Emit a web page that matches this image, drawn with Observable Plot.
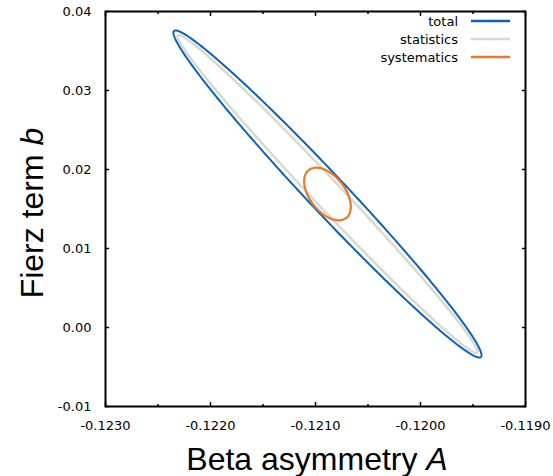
<!DOCTYPE html>
<html><head><meta charset="utf-8">
<script src="https://cdn.jsdelivr.net/npm/d3@7"></script>
<script src="https://cdn.jsdelivr.net/npm/@observablehq/plot@0.6"></script>
<style>body{margin:0;background:#fff} svg{display:block}</style>
</head><body><div id="chart"></div>
<script>
// Ellipse parameters: center, 1-sigma widths, correlation
const series = ["total", "statistics", "systematics"];
const centerA = [-0.120886, -0.120886, -0.120886];
const centerB = [0.0169, 0.0169, 0.0169];
const sigmaA = [0.001467, 0.001429, 0.000222];
const sigmaB = [0.0207, 0.02013, 0.00333];
const rho = [-0.9857, -0.992, -0.48];
const colors = ["#0a63bc", "#d9d9d0", "#e8782a"];
const widths = [2, 2.5, 2.2];
const drawOrder = [1, 0, 2];

const xTicks = [-0.123, -0.122, -0.121, -0.120, -0.119];
const xMinor = [-0.1225, -0.1215, -0.1205, -0.1195];
const yTicks = [-0.01, 0.00, 0.01, 0.02, 0.03, 0.04];
const xDomain = [-0.123, -0.119];
const yDomain = [-0.01, 0.04];

// contour points of each ellipse from its parameters
const pts = [];
for (const i of drawOrder) {
  const r = Math.sqrt(1 - rho[i] * rho[i]);
  for (let k = 0; k <= 360; k++) {
    const t = k * Math.PI / 180;
    pts.push({s: series[i], A: centerA[i] + sigmaA[i] * Math.cos(t),
      b: centerB[i] + sigmaB[i] * (rho[i] * Math.cos(t) + r * Math.sin(t))});
  }
}

const W = 553, H = 476;
const svg = Plot.plot({
  width: W, height: H,
  marginLeft: 105, marginRight: 28, marginTop: 11, marginBottom: 70,
  x: {domain: xDomain},
  y: {domain: yDomain},
  color: {domain: series, range: colors},
  style: {fontFamily: "DejaVu Sans", fontSize: "13px", color: "#000", background: "#fff"},
  marks: [
    ...drawOrder.map(i => Plot.line(pts.filter(d => d.s === series[i]),
      {x: "A", y: "b", stroke: colors[i], strokeWidth: widths[i], curve: "linear-closed"})),
    Plot.axisX(xTicks, {anchor: "bottom", tickSize: -4, tickPadding: 18, strokeWidth: 1.5, tickFormat: d => d.toFixed(4), label: null}),
    Plot.axisX(xMinor, {anchor: "bottom", tickSize: -2, strokeWidth: 1.5, tickFormat: () => "", label: null}),
    Plot.axisX(xTicks, {anchor: "top", tickSize: -4, strokeWidth: 1.5, tickFormat: () => "", label: null}),
    Plot.axisX(xMinor, {anchor: "top", tickSize: -2, strokeWidth: 1.5, tickFormat: () => "", label: null}),
    Plot.axisY(yTicks, {anchor: "left", tickSize: -4, tickPadding: 18, strokeWidth: 1.5, tickFormat: d => d.toFixed(2), label: null}),
    Plot.axisY(yTicks, {anchor: "right", tickSize: -4, strokeWidth: 1.5, tickFormat: () => "", label: null}),
    Plot.frame({stroke: "#000", strokeWidth: 2})
  ]
});

const s = d3.select(svg);
const titleFont = "'Liberation Sans', Arial, sans-serif";
const xt = s.append("text").attr("x", 317).attr("y", 470).attr("text-anchor", "middle")
  .attr("font-family", titleFont).attr("font-size", 32).attr("fill", "#000");
xt.append("tspan").text("Beta asymmetry ");
xt.append("tspan").attr("font-style", "italic").text("A");
const yt = s.append("text").attr("transform", "translate(43,213) rotate(-90)").attr("text-anchor", "middle")
  .attr("font-family", titleFont).attr("font-size", 32).attr("fill", "#000");
yt.append("tspan").text("Fierz term ");
yt.append("tspan").attr("font-style", "italic").text("b");

// legend
series.forEach((name, i) => {
  const y = 21 + i * 18;
  s.append("text").attr("x", 458).attr("y", y).attr("dy", "0.35em").attr("text-anchor", "end")
    .attr("font-family", "DejaVu Sans").attr("font-size", 13).attr("fill", "#000").text(name);
  s.append("line").attr("x1", 471).attr("x2", 510).attr("y1", y).attr("y2", y)
    .attr("stroke", colors[i]).attr("stroke-width", 2.5);
});

document.getElementById("chart").appendChild(svg);
</script>
</body></html>
